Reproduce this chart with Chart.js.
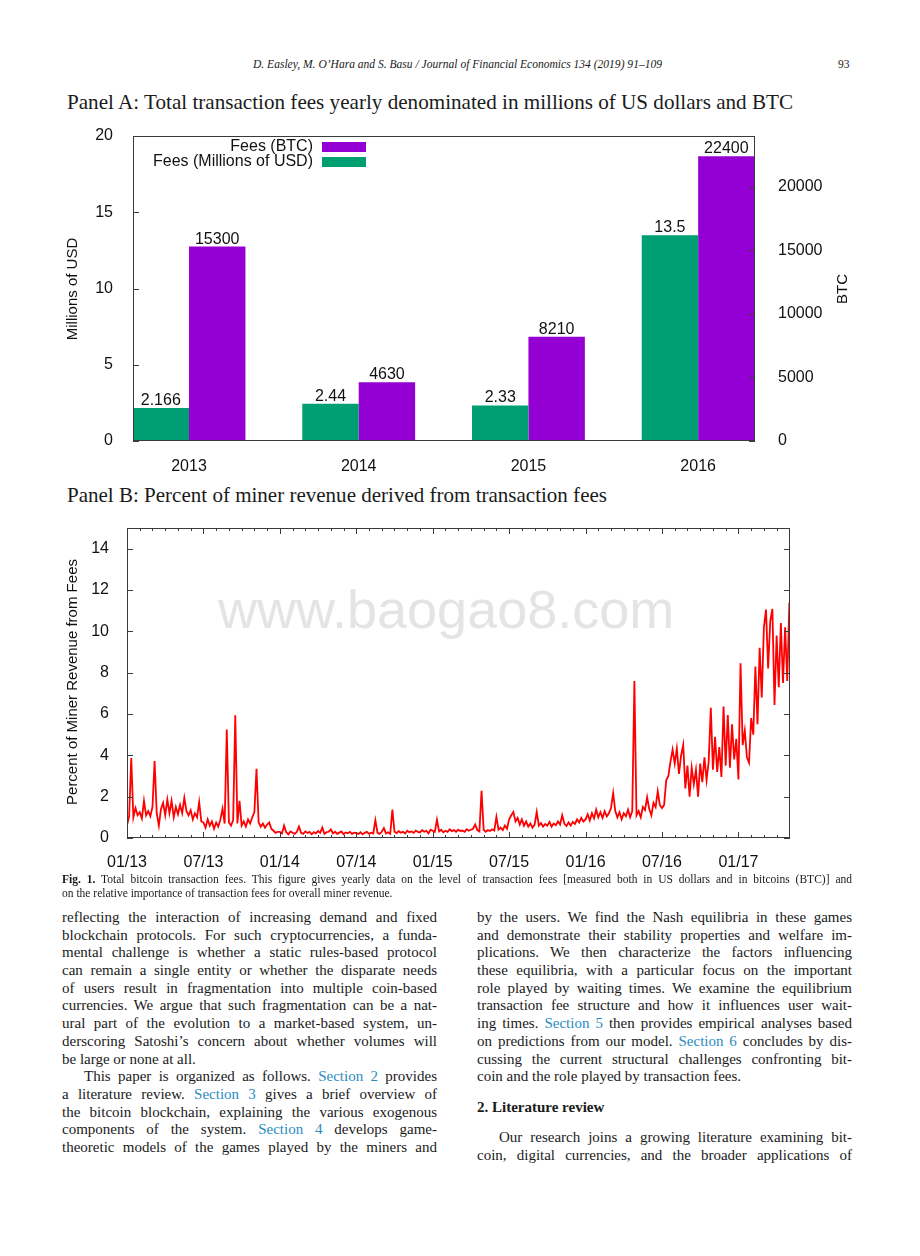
<!DOCTYPE html>
<html>
<head>
<meta charset="utf-8">
<script src="https://cdn.jsdelivr.net/npm/chart.js@4.4.1/dist/chart.umd.min.js"></script>
<style>
  body { margin: 0; width: 920px; height: 1256px; position: relative; background: #fff; overflow: hidden;
         font-family: "Liberation Serif", "Times New Roman", serif; color: #1a1a1a; }
  .abs { position: absolute; white-space: nowrap; }
  .ln { display: inline-block; white-space: nowrap; transform-origin: 0 50%; }
  .row { height: 17.7px; line-height: 17.7px; }
  .col { position: absolute; width: 375px; font-size: 15px; }
  .cap .row { height: 14px; line-height: 14px; }
  a, .lk { color: #2b8cbf; text-decoration: none; }
  .box { position: absolute; width: 840px; height: 360px; left: 40px; }
  .wm { position: absolute; left: 218px; top: 577px; font: 54px "Liberation Sans", Arial, sans-serif; color: #e4e4e4; line-height: 64px; white-space: nowrap; }
</style>
</head>
<body>

<div class="abs" style="left:253px; top:56px; font-size:11.5px; font-style:italic; line-height:16px;"><span class="ln" data-w="409" data-fit="1">D. Easley, M. O’Hara and S. Basu / Journal of Financial Economics 134 (2019) 91–109</span></div>
<div class="abs" style="left:838px; top:56px; font-size:11.5px; line-height:16px;">93</div>

<div class="abs" style="left:67px; top:90px; font-size:21px; line-height:24px;"><span class="ln" data-w="726" data-fit="1">Panel A: Total transaction fees yearly denominated in millions of US dollars and BTC</span></div>
<div class="box" style="top:120px;"><canvas id="chartA"></canvas></div>

<div class="abs" style="left:67px; top:483px; font-size:21px; line-height:24px;"><span class="ln" data-w="540" data-fit="1">Panel B: Percent of miner revenue derived from transaction fees</span></div>
<div class="wm">www.baogao8.com</div>
<div class="box" style="top:515px;"><canvas id="chartB"></canvas></div>

<div class="col cap" style="left:62px; top:872px; width:790px; font-size:11.5px;">
  <div class="row"><span class="ln" data-w="790" data-j="1"><b>Fig. 1.</b> Total bitcoin transaction fees. This figure gives yearly data on the level of transaction fees [measured both in US dollars and in bitcoins (BTC)] and</span></div>
  <div class="row"><span class="ln" data-w="790">on the relative importance of transaction fees for overall miner revenue.</span></div>
</div>

<div class="col" style="left:62px; top:909px;">
  <div class="row"><span class="ln" data-w="375" data-j="1">reflecting the interaction of increasing demand and fixed</span></div>
  <div class="row"><span class="ln" data-w="375" data-j="1">blockchain protocols. For such cryptocurrencies, a funda-</span></div>
  <div class="row"><span class="ln" data-w="375" data-j="1">mental challenge is whether a static rules-based protocol</span></div>
  <div class="row"><span class="ln" data-w="375" data-j="1">can remain a single entity or whether the disparate needs</span></div>
  <div class="row"><span class="ln" data-w="375" data-j="1">of users result in fragmentation into multiple coin-based</span></div>
  <div class="row"><span class="ln" data-w="375" data-j="1">currencies. We argue that such fragmentation can be a nat-</span></div>
  <div class="row"><span class="ln" data-w="375" data-j="1">ural part of the evolution to a market-based system, un-</span></div>
  <div class="row"><span class="ln" data-w="375" data-j="1">derscoring Satoshi’s concern about whether volumes will</span></div>
  <div class="row"><span class="ln" data-w="375">be large or none at all.</span></div>
  <div class="row" style="padding-left:22px;"><span class="ln" data-w="353" data-j="1">This paper is organized as follows. <span class="lk">Section 2</span> provides</span></div>
  <div class="row"><span class="ln" data-w="375" data-j="1">a literature review. <span class="lk">Section 3</span> gives a brief overview of</span></div>
  <div class="row"><span class="ln" data-w="375" data-j="1">the bitcoin blockchain, explaining the various exogenous</span></div>
  <div class="row"><span class="ln" data-w="375" data-j="1">components of the system. <span class="lk">Section 4</span> develops game-</span></div>
  <div class="row"><span class="ln" data-w="375" data-j="1">theoretic models of the games played by the miners and</span></div>
</div>

<div class="col" style="left:477px; top:909px;">
  <div class="row"><span class="ln" data-w="375" data-j="1">by the users. We find the Nash equilibria in these games</span></div>
  <div class="row"><span class="ln" data-w="375" data-j="1">and demonstrate their stability properties and welfare im-</span></div>
  <div class="row"><span class="ln" data-w="375" data-j="1">plications. We then characterize the factors influencing</span></div>
  <div class="row"><span class="ln" data-w="375" data-j="1">these equilibria, with a particular focus on the important</span></div>
  <div class="row"><span class="ln" data-w="375" data-j="1">role played by waiting times. We examine the equilibrium</span></div>
  <div class="row"><span class="ln" data-w="375" data-j="1">transaction fee structure and how it influences user wait-</span></div>
  <div class="row"><span class="ln" data-w="375" data-j="1">ing times. <span class="lk">Section 5</span> then provides empirical analyses based</span></div>
  <div class="row"><span class="ln" data-w="375" data-j="1">on predictions from our model. <span class="lk">Section 6</span> concludes by dis-</span></div>
  <div class="row"><span class="ln" data-w="375" data-j="1">cussing the current structural challenges confronting bit-</span></div>
  <div class="row"><span class="ln" data-w="375">coin and the role played by transaction fees.</span></div>
</div>
<div class="col" style="left:477px; top:1099px;">
  <div class="row" style="font-weight:bold;">2. Literature review</div>
</div>
<div class="col" style="left:477px; top:1129px;">
  <div class="row" style="padding-left:22px;"><span class="ln" data-w="353" data-j="1">Our research joins a growing literature examining bit-</span></div>
  <div class="row"><span class="ln" data-w="375" data-j="1">coin, digital currencies, and the broader applications of</span></div>
</div>

<script>
// Panel A: yearly fees
const years = ["2013", "2014", "2015", "2016"];
const feesUsd = [2.166, 2.44, 2.33, 13.5];
const feesBtc = [15300, 4630, 8210, 22400];
const usdTicks = [0, 5, 10, 15, 20];
const btcTicks = [0, 5000, 10000, 15000, 20000];

// Panel B: percent of miner revenue from fees, read every ~5 days (1/6 month)
const share2013a = [0.62, 1.05, 3.87, 1.0, 1.45, 1.1, 1.25, 0.95, 1.8, 1.1, 1.3, 1.05, 1.5, 3.72, 1.2, 0.6, 1.4, 1.7, 1.1, 1.86, 1.2, 1.8, 1.0, 1.5, 1.15, 1.6, 1.2, 1.94, 1.3, 1.1, 1.35, 0.9, 1.2, 1.0, 1.74, 0.8];
const share2013b = [0.75, 0.5, 0.9, 0.6, 0.8, 0.45, 0.75, 0.55, 0.9, 1.42, 0.7, 5.25, 0.75, 0.6, 0.85, 5.94, 0.7, 1.8, 0.6, 0.8, 0.55, 0.9, 0.7, 1.0, 1.25, 3.35, 0.75, 0.55, 0.7, 0.5, 0.65, 0.75, 0.45, 0.35, 0.25, 0.3];
const share2014a = [0.3, 0.22, 0.6, 0.28, 0.18, 0.32, 0.25, 0.2, 0.3, 0.55, 0.25, 0.2, 0.32, 0.24, 0.3, 0.18, 0.28, 0.22, 0.34, 0.25, 0.5, 0.2, 0.28, 0.3, 0.42, 0.22, 0.3, 0.2, 0.26, 0.32, 0.18, 0.27, 0.23, 0.3, 0.2, 0.26];
const share2014b = [0.24, 0.2, 0.28, 0.18, 0.25, 0.3, 0.2, 0.26, 0.22, 0.86, 0.25, 0.2, 0.3, 0.48, 0.22, 0.28, 0.2, 1.37, 0.3, 0.24, 0.33, 0.26, 0.3, 0.22, 0.35, 0.28, 0.32, 0.25, 0.36, 0.3, 0.27, 0.38, 0.3, 0.35, 0.22, 0.4];
const share2015a = [0.35, 0.3, 0.89, 0.32, 0.4, 0.28, 0.35, 0.3, 0.42, 0.33, 0.38, 0.3, 0.4, 0.34, 0.36, 0.3, 0.42, 0.35, 0.4, 0.45, 0.65, 0.38, 0.32, 2.29, 0.4, 0.3, 0.38, 0.34, 0.42, 0.36, 1.02, 0.4, 0.5, 0.38, 0.6, 0.45];
const share2015b = [0.9, 1.1, 1.26, 0.8, 0.97, 0.65, 0.9, 0.6, 0.8, 0.55, 0.7, 0.5, 0.65, 1.26, 0.6, 0.72, 0.55, 0.68, 0.6, 0.78, 0.55, 0.7, 0.62, 0.8, 0.65, 1.1, 0.7, 0.58, 0.75, 0.6, 0.78, 0.68, 0.9, 0.75, 0.97, 0.8];
const share2016a = [0.9, 1.15, 0.85, 1.2, 0.95, 1.37, 1.0, 1.25, 0.97, 1.3, 1.05, 1.2, 1.45, 2.18, 1.3, 1.0, 1.25, 0.9, 1.2, 1.05, 1.37, 1.0, 1.3, 7.6, 1.1, 1.3, 1.0, 1.5, 1.35, 1.97, 1.4, 1.1, 1.7, 1.5, 2.26, 1.6];
const share2016b = [1.45, 1.6, 2.8, 3.0, 3.7, 4.28, 3.6, 4.33, 3.1, 4.0, 4.5, 2.4, 3.5, 2.0, 3.4, 2.6, 3.3, 2.0, 3.6, 2.7, 3.9, 2.8, 3.7, 6.3, 3.3, 4.9, 3.2, 4.4, 2.95, 6.36, 3.5, 5.95, 3.4, 5.5, 3.8, 4.8];
const share2017a = [2.83, 8.46, 4.5, 5.2, 3.9, 3.64, 5.8, 5.0, 8.3, 5.5, 9.2, 6.8, 10.2, 11.05, 8.2, 10.5, 11.08, 6.44, 9.8, 7.3, 10.4, 7.5, 10.2, 7.6, 11.4];
const shareTicks = [0, 2, 4, 6, 8, 10, 12, 14];
const monthLabels = ["01/13", "07/13", "01/14", "07/14", "01/15", "07/15", "01/16", "07/16", "01/17"];

Chart.defaults.font.family = "'Liberation Sans', Arial, sans-serif";
Chart.defaults.font.size = 16;
Chart.defaults.color = "#111";

const sansFont = (px) => px + "px 'Liberation Sans', Arial, sans-serif";

// axis size is fixed here so the plot box lands where it is on the page
function fixSize(w, h) {
  return (s) => {
    if (w !== null) s.width = w;
    if (h !== null) s.height = h;
    s.paddingTop = 0; s.paddingBottom = 0; s.paddingLeft = 0; s.paddingRight = 0;
  };
}

function drawBox(ctx, a) {
  ctx.strokeStyle = "#3a3a3a";
  ctx.lineWidth = 1;
  const l = Math.round(a.left) + 0.5, t = Math.round(a.top) + 0.5;
  const r = Math.round(a.right) - 0.5, b = Math.round(a.bottom) - 0.5;
  ctx.strokeRect(l, t, r - l, b - t);
}

function vText(ctx, text, x, y, px) {
  ctx.save();
  ctx.translate(x, y);
  ctx.rotate(-Math.PI / 2);
  ctx.font = sansFont(px);
  ctx.textAlign = "center";
  ctx.textBaseline = "middle";
  ctx.fillText(text, 0, 0);
  ctx.restore();
}

// extra bits of panel A: frame, inward ticks, bar values, legend, axis titles
const panelAExtras = {
  id: "panelAExtras",
  afterDraw(chart) {
    const { ctx, chartArea: a, scales } = chart;
    ctx.save();
    drawBox(ctx, a);
    ctx.beginPath();
    usdTicks.forEach((v) => {
      const y = Math.round(scales.y.getPixelForValue(v)) + 0.5;
      ctx.moveTo(a.left, y); ctx.lineTo(a.left + 6, y);
    });
    btcTicks.forEach((v) => {
      const y = Math.round(scales.y2.getPixelForValue(v)) + 0.5;
      ctx.moveTo(a.right, y); ctx.lineTo(a.right - 6, y);
    });
    ctx.stroke();

    ctx.fillStyle = "#111";
    ctx.font = sansFont(16);
    ctx.textAlign = "center";
    ctx.textBaseline = "alphabetic";
    const values = [feesUsd, feesBtc];
    chart.data.datasets.forEach((ds, di) => {
      chart.getDatasetMeta(di).data.forEach((bar, i) => {
        ctx.fillText(String(values[di][i]), bar.x, bar.y - 3);
      });
    });

    // legend (text left of swatch)
    const legend = [["Fees (BTC)", "#9400d3", 27], ["Fees (Millions of USD)", "#009e73", 42]];
    ctx.textAlign = "right";
    ctx.textBaseline = "middle";
    legend.forEach(([txt, col, y]) => {
      ctx.fillStyle = "#111";
      ctx.fillText(txt, 273, y);
      ctx.fillStyle = col;
      ctx.fillRect(282, y - 5, 44, 10);
    });

    ctx.fillStyle = "#111";
    vText(ctx, "Millions of USD", 33, 169, 15);
    vText(ctx, "BTC", 803, 169, 15);
    ctx.restore();
  },
};

new Chart(document.getElementById("chartA"), {
  type: "bar",
  data: {
    datasets: [
      {
        label: "Fees (Millions of USD)",
        data: years.map((y, i) => ({ x: Number(y), y: feesUsd[i] })),
        backgroundColor: "#009e73",
        yAxisID: "y",
        categoryPercentage: 0.665,
        barPercentage: 1,
      },
      {
        label: "Fees (BTC)",
        data: years.map((y, i) => ({ x: Number(y), y: feesBtc[i] })),
        backgroundColor: "#9400d3",
        yAxisID: "y2",
        categoryPercentage: 0.665,
        barPercentage: 1,
      },
    ],
  },
  options: {
    responsive: true,
    maintainAspectRatio: false,
    animation: false,
    layout: { padding: { top: 16, left: 0, right: 0, bottom: 0 } },
    plugins: { legend: { display: false }, tooltip: { enabled: false } },
    scales: {
      x: {
        type: "linear",
        offset: false,
        min: 2012.67,
        max: 2016.335,
        grid: { display: false },
        border: { display: false },
        afterBuildTicks: (s) => { s.ticks = years.map((v) => ({ value: Number(v) })); },
        ticks: { padding: 8, autoSkip: false, maxRotation: 0, callback: (v) => String(v) },
        afterFit: fixSize(null, 39),
      },
      y: {
        position: "left",
        min: 0,
        max: 20,
        grid: { display: false },
        border: { display: false },
        afterBuildTicks: (s) => { s.ticks = usdTicks.map((v) => ({ value: v })); },
        ticks: { padding: 12 },
        afterFit: fixSize(93, null),
      },
      y2: {
        position: "right",
        min: 0,
        max: 24000,
        grid: { display: false },
        border: { display: false },
        afterBuildTicks: (s) => { s.ticks = btcTicks.map((v) => ({ value: v })); },
        ticks: { padding: 15, callback: (v) => String(v) },
        afterFit: fixSize(125, null),
      },
    },
  },
  plugins: [panelAExtras],
});

// Panel B: build points, x = months since Jan 2013
const shareSegments = [
  [0, share2013a], [6, share2013b], [12, share2014a], [18, share2014b], [24, share2015a],
  [30, share2015b], [36, share2016a], [42, share2016b], [48, share2017a],
];
const sharePoints = [];
shareSegments.forEach(([start, vals]) => {
  vals.forEach((v, j) => sharePoints.push({ x: start + j / 6, y: v }));
});
const monthTicks = [];
for (let m = 0; m <= 52; m++) monthTicks.push(m);

const panelBExtras = {
  id: "panelBExtras",
  afterDraw(chart) {
    const { ctx, chartArea: a, scales } = chart;
    ctx.save();
    drawBox(ctx, a);
    ctx.beginPath();
    shareTicks.forEach((v) => {
      const y = Math.round(scales.y.getPixelForValue(v)) + 0.5;
      ctx.moveTo(a.left, y); ctx.lineTo(a.left + 6, y);
      ctx.moveTo(a.right, y); ctx.lineTo(a.right - 6, y);
    });
    monthTicks.forEach((m) => {
      const x = Math.round(scales.x.getPixelForValue(m)) + 0.5;
      const len = m % 6 === 0 ? 6 : 3;
      ctx.moveTo(x, a.bottom); ctx.lineTo(x, a.bottom - len);
      ctx.moveTo(x, a.top); ctx.lineTo(x, a.top + len);
    });
    ctx.stroke();
    ctx.fillStyle = "#111";
    vText(ctx, "Percent of Miner Revenue from Fees", 33, 167, 15);
    ctx.restore();
  },
};

new Chart(document.getElementById("chartB"), {
  type: "line",
  data: {
    datasets: [
      {
        label: "Percent of Miner Revenue from Fees",
        data: sharePoints,
        borderColor: "#ff0000",
        borderWidth: 1.8,
        pointRadius: 0,
        tension: 0,
      },
    ],
  },
  options: {
    responsive: true,
    maintainAspectRatio: false,
    animation: false,
    layout: { padding: { top: 13, right: 90, left: 0, bottom: 0 } },
    plugins: { legend: { display: false }, tooltip: { enabled: false } },
    scales: {
      x: {
        type: "linear",
        min: 0,
        max: 52.05,
        grid: { display: false },
        border: { display: false },
        afterBuildTicks: (s) => { s.ticks = monthTicks.map((v) => ({ value: v })); },
        ticks: {
          padding: 7,
          autoSkip: false,
          maxRotation: 0,
          callback: (v) => (v % 6 === 0 ? monthLabels[v / 6] : ""),
        },
        afterFit: fixSize(null, 37),
      },
      y: {
        min: 0,
        max: 15,
        grid: { display: false },
        border: { display: false },
        afterBuildTicks: (s) => { s.ticks = shareTicks.map((v) => ({ value: v })); },
        ticks: { padding: 10 },
        afterFit: fixSize(87, null),
      },
    },
  },
  plugins: [panelBExtras],
});

// fit page text lines to the widths of the original page
function fitText() {
  document.querySelectorAll(".ln[data-w]").forEach((el) => {
    const w = Number(el.dataset.w);
    const nat = el.getBoundingClientRect().width;
    if (el.dataset.fit || nat > w) {
      el.style.transform = "scaleX(" + (w / nat).toFixed(4) + ")";
    } else if (el.dataset.j) {
      el.style.width = w + "px";
      el.style.textAlign = "justify";
      el.style.textAlignLast = "justify";
    }
  });
}
fitText();
</script>
</body>
</html>
